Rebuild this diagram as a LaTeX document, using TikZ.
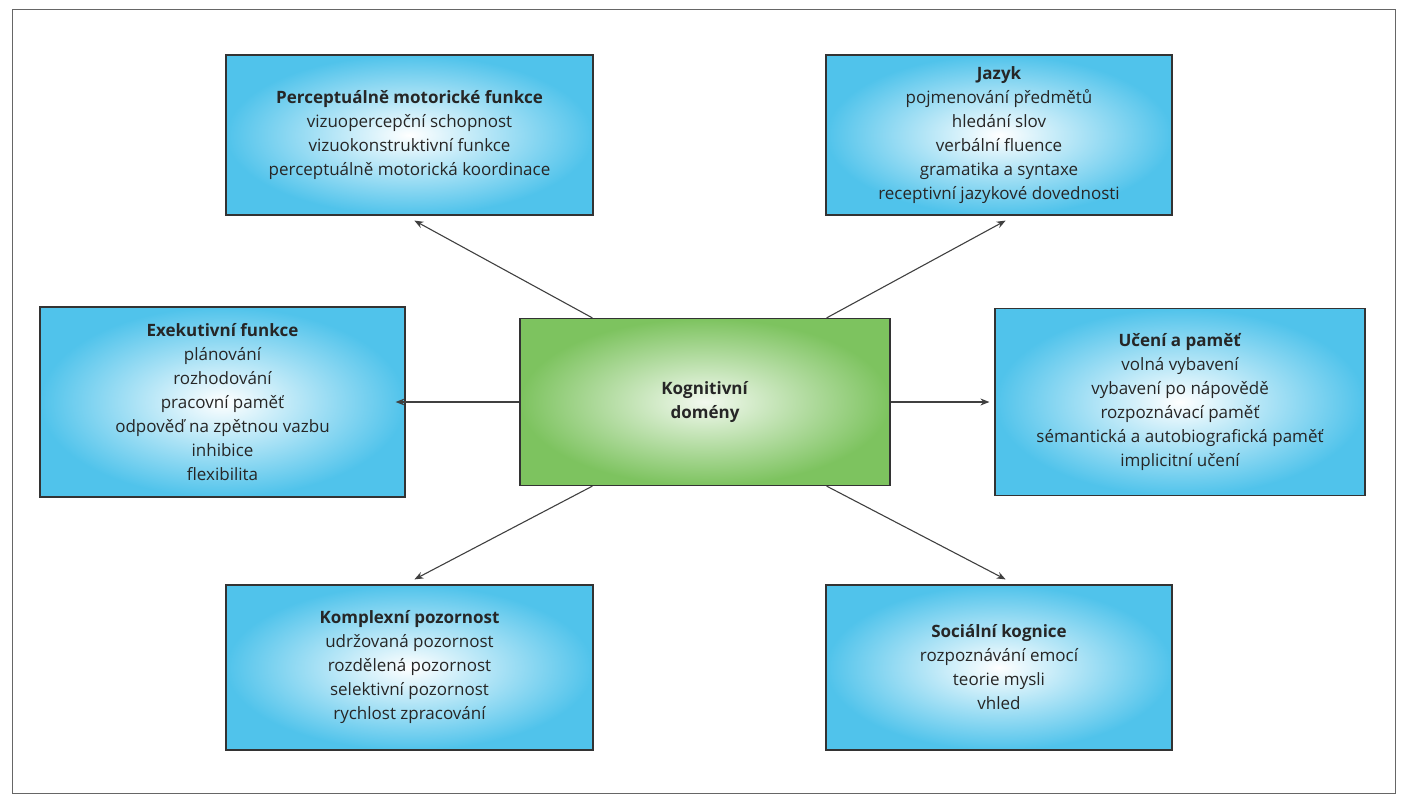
\documentclass[tikz,border=0pt]{standalone}
\usepackage{fontspec}
\setmainfont{Open Sans}
\usetikzlibrary{positioning,calc,arrows.meta}
\definecolor{boxblue}{RGB}{80,195,235}
\definecolor{boxgreen}{RGB}{125,195,95}
\tikzset{
  dombox/.style={draw=black!80, line width=1.2pt, inner color=white, outer color=boxblue,
    minimum width=367pt, minimum height=160pt, align=center, text=black!85,
    font=\fontsize{17}{24}\selectfont},
  arr/.style={-{Stealth[length=9pt,width=7pt]}, line width=1.1pt, black!75}
}
\begin{document}
\begin{tikzpicture}[x=1pt,y=-1pt]
\useasboundingbox (0,0) rectangle (1407,800);
\draw[black!60, line width=1pt] (12,10) rectangle (1395,793);

% central node
\node[dombox, inner color=white!90!boxgreen, outer color=boxgreen, minimum width=370pt, minimum height=167pt] (center) at (705,402) {\textbf{Kognitivní}\\\textbf{domény}};

% domains
\node[dombox] (percep) at (409.5,135) {\textbf{Perceptuálně motorické funkce}\\vizuopercepční schopnost\\vizuokonstruktivní funkce\\perceptuálně motorická koordinace};
\node[dombox, minimum width=346pt] (jazyk) at (999,135) {\textbf{Jazyk}\\pojmenování předmětů\\hledání slov\\verbální fluence\\gramatika a syntaxe\\receptivní jazykové dovednosti};
\node[dombox, minimum width=365pt, minimum height=190pt] (exek) at (222.5,402) {\textbf{Exekutivní funkce}\\plánování\\rozhodování\\pracovní paměť\\odpověď na zpětnou vazbu\\inhibice\\flexibilita};
\node[dombox, minimum width=370pt, minimum height=187pt] (uceni) at (1180,402) {\textbf{Učení a paměť}\\volná vybavení\\vybavení po nápovědě\\rozpoznávací paměť\\sémantická a autobiografická paměť\\implicitní učení};
\node[dombox, minimum height=165pt] (pozor) at (409.5,667.5) {\textbf{Komplexní pozornost}\\udržovaná pozornost\\rozdělená pozornost\\selektivní pozornost\\rychlost zpracování};
\node[dombox, minimum width=346pt, minimum height=165pt] (social) at (999,667.5) {\textbf{Sociální kognice}\\rozpoznávání emocí\\teorie mysli\\vhled};

% connectors
\draw[arr] ([xshift=73]center.north west) -- ([xshift=189,yshift=-5]percep.south west);
\draw[arr] ([xshift=-64]center.north east) -- ([xshift=-167,yshift=-5]jazyk.south east);
\draw[arr] (center.west) -- ([xshift=-10]exek.east);
\draw[arr] (center.east) -- ([xshift=-5]uceni.west);
\draw[arr] ([xshift=73]center.south west) -- ([xshift=189,yshift=5]pozor.north west);
\draw[arr] ([xshift=-64]center.south east) -- ([xshift=-167,yshift=5]social.north east);
\end{tikzpicture}
\end{document}
